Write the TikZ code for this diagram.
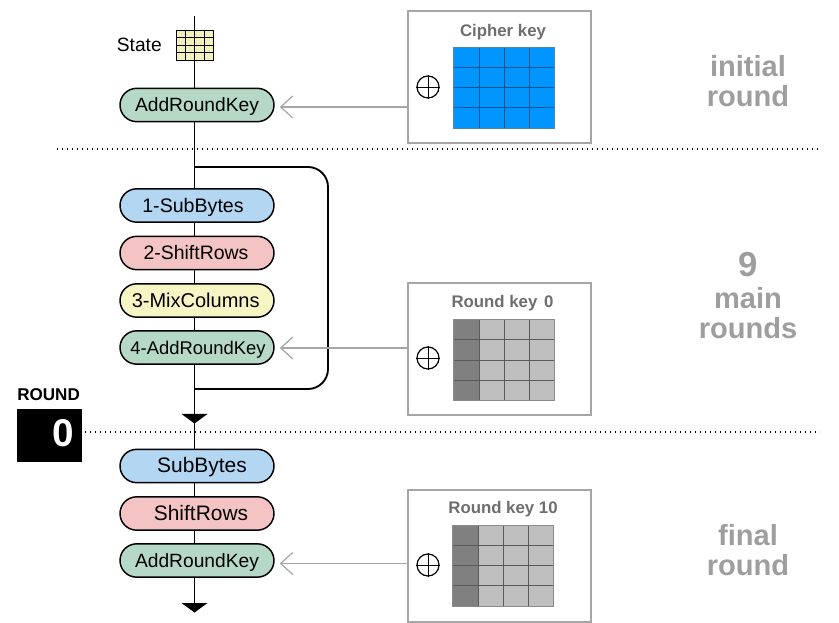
\documentclass[tikz,border=0pt]{standalone}
\usepackage{fontspec}
\setmainfont{Liberation Sans}
\usetikzlibrary{shapes.misc,calc,arrows.meta}
\definecolor{pillgreen}{HTML}{B5D9C6}
\definecolor{pillblue}{HTML}{B3D6F3}
\definecolor{pillred}{HTML}{F4C4C4}
\definecolor{pillyellow}{HTML}{F8F5C4}
\definecolor{stateyellow}{HTML}{F2F0BC}
\definecolor{keyblue}{HTML}{0095FF}
\definecolor{keyline}{HTML}{00558F}
\definecolor{boxgray}{HTML}{A6A6A6}
\definecolor{headgray}{HTML}{6E6E6E}
\definecolor{roundgray}{HTML}{9E9E9E}
\definecolor{darkcell}{HTML}{808080}
\definecolor{lightcell}{HTML}{BFBFBF}
\definecolor{gridline}{HTML}{5A5A5A}
\tikzset{
  x=0.75pt,y=-0.75pt,
  pill/.style={rounded rectangle,draw=black,line width=1.1pt,minimum width=115.5pt,minimum height=25pt,inner sep=0pt,text height=11.4pt,text depth=1.4pt,font=\fontsize{14.4}{16}\selectfont},
  flow/.style={draw=black,line width=1.4pt},
  feed/.style={draw=boxgray,line width=0.9pt},
  keybox/.style={draw=boxgray,line width=1.1pt,fill=white,minimum width=137pt,minimum height=99pt,inner sep=0pt},
  keyhead/.style={text=headgray,font=\bfseries\fontsize{12.6}{14}\selectfont,inner sep=0pt},
  phase/.style={text=roundgray,font=\bfseries\fontsize{21.8}{22.5}\selectfont,align=center,inner sep=0pt},
  sep/.style={draw=black,line width=0.8pt,dash pattern=on 0.8pt off 2.95pt},
  xorsym/.style={circle,draw=black,line width=0.9pt,minimum size=16.5pt,inner sep=0pt},
  headtip/.style={fill=black,draw=none},
}
\newcommand{\tsh}[1]{\hspace*{#1pt}}
% #1 x0, #2 y0 (top), #3 fill first col, #4 fill rest, #5 line colour
\newcommand{\keygrid}[5]{
  \fill[#4] (#1,#2) rectangle ++(101,81);
  \fill[#3] (#1,#2) rectangle ++(26,81);
  \foreach \k in {1,2,3} {
    \draw[#5,line width=0.65pt] (#1,#2) ++(0,\k*20.25) -- ++(101,0);
  }
  \draw[#5,line width=0.65pt] (#1,#2) ++(26,0) -- ++(0,81);
  \draw[#5,line width=0.65pt] (#1,#2) ++(51,0) -- ++(0,81);
  \draw[#5,line width=0.65pt] (#1,#2) ++(76,0) -- ++(0,81);
  \draw[#5!70,line width=0.5pt] (#1,#2) rectangle ++(101,81);
}
\begin{document}
\begin{tikzpicture}
\useasboundingbox (0,0) rectangle (839,623);
% separators
\coordinate (sepAl) at (57,149); \coordinate (sepAr) at (820,149);
\coordinate (sepBl) at (85,432); \coordinate (sepBr) at (820,432);
\draw[sep] (sepAl) -- (sepAr);
\draw[sep] (sepBl) -- (sepBr);
% coordinates of the flow
\coordinate (top) at (194.5,16);
\coordinate (loopa) at (194.5,167);
\coordinate (loopb) at (194.5,389);
\coordinate (tipa) at (194.5,414);
\coordinate (tipb) at (194.5,603);
% state
\node[inner sep=0pt,minimum width=28pt,minimum height=22.5pt,fill=stateyellow,draw=black,line width=0.7pt] (state) at (194.75,45) {};
\foreach \k in {1,2,3} {
  \draw[black,line width=0.6pt] ($(state.north west)!\k/4!(state.north east)$) -- ($(state.south west)!\k/4!(state.south east)$);
  \draw[black,line width=0.6pt] ($(state.north west)!\k/4!(state.south west)$) -- ($(state.north east)!\k/4!(state.south east)$);
}
\node[anchor=east,inner sep=0pt,font=\fontsize{14.4}{16}\selectfont] (statelabel) at (162,44.5) {State};
% pills
\node[pill,fill=pillgreen] (add0) at (197,105) {AddRoundKey};
\node[pill,fill=pillblue,font=\fontsize{14.7}{16}\selectfont] (sub1) at (197,205.5) {\tsh{-6}1-SubBytes};
\node[pill,fill=pillred,font=\fontsize{14.6}{16}\selectfont] (shift1) at (197,253) {\tsh{-1.5}2-ShiftRows};
\node[pill,fill=pillyellow,font=\fontsize{15}{16}\selectfont] (mix1) at (197,300.5) {\tsh{-2}3-MixColumns};
\node[pill,fill=pillgreen,font=\fontsize{13.8}{16}\selectfont] (add1) at (197,347.5) {\tsh{1.5}4-AddRoundKey};
\node[pill,fill=pillblue,font=\fontsize{15.7}{16}\selectfont] (sub2) at (197,466) {\tsh{7.5}SubBytes};
\node[pill,fill=pillred,font=\fontsize{15.7}{16}\selectfont] (shift2) at (197,513.5) {\tsh{6}ShiftRows};
\node[pill,fill=pillgreen] (add2) at (197,560.5) {AddRoundKey};
% flow lines
\draw[flow] (top) -- (top |- add0.north);
\draw[flow] (top |- add0.south) -- (top |- sub1.north);
\draw[flow] (top |- sub1.south) -- (top |- shift1.north);
\draw[flow] (top |- shift1.south) -- (top |- mix1.north);
\draw[flow] (top |- mix1.south) -- (top |- add1.north);
\draw[flow] (top |- add1.south) -- (tipa);
\draw[flow] (tipa) -- (top |- sub2.north);
\draw[flow] (top |- sub2.south) -- (top |- shift2.north);
\draw[flow] (top |- shift2.south) -- (top |- add2.north);
\draw[flow] (top |- add2.south) -- (tipb);
\draw[flow,rounded corners=15pt] (loopa) -- (328,167) -- (328,389) -- (loopb);
\path[headtip] (tipa) ++(-13,0) -- ++(26,0) -- ++(-13,9.5) -- cycle;
\path[headtip] (tipb) ++(-13,0) -- ++(26,0) -- ++(-13,9.5) -- cycle;
% key boxes
\node[keybox] (kb0) at (499.5,77) {};
\node[keybox] (kb1) at (499.5,349) {};
\node[keybox] (kb2) at (499.5,556) {};
\node[keyhead] (kh0) at (503,32) {Cipher key};
\node[keyhead] (kh1) at (502.5,303.5) {Round key\hspace{1.5pt} 0};
\node[keyhead] (kh2) at (503,509.5) {Round key 10};
\fill[keyblue] (453,47) rectangle (554,128);
\keygrid{453}{47}{keyblue}{keyblue}{keyline}
\keygrid{453}{319.5}{darkcell}{lightcell}{gridline}
\keygrid{452.5}{525}{darkcell}{lightcell}{gridline}
\foreach \n/\y in {x0/87,x1/358,x2/565} {
  \node[xorsym] (\n) at (428,\y) {};
  \draw[black,line width=0.7pt] (\n.west) -- (\n.east);
  \draw[black,line width=0.7pt] (\n.north) -- (\n.south);
}
% feeds
\coordinate (f0) at ($(add0.east)+(6,2)$);
\coordinate (f1) at ($(add1.east)+(6,0.5)$);
\coordinate (f2) at ($(add2.east)+(6,3)$);
\foreach \f/\b in {f0/kb0,f1/kb1,f2/kb2} {
  \draw[feed] (\f -| \b.west) -- (\f);
  \draw[feed] (\f) ++(12,-11) -- (\f) -- ++(12,11);
}
% round counter
\node[anchor=south west,inner sep=0pt,font=\bfseries\fontsize{12.8}{14}\selectfont] (rlabel) at (17,401) {ROUND};
\node[fill=black,inner sep=0pt,minimum width=48.75pt,minimum height=40pt] (rbox) at (49.5,435.5) {};
\node[text=white,inner sep=0pt,font=\bfseries\fontsize{29}{30}\selectfont] (rnum) at (63,433.5) {0};
% phase labels
\node[phase] (p0) at (748,81.5) {initial\\round};
\node[phase] (p1n) at (748,264.5) {\fontsize{26}{26}\selectfont 9};
\node[phase] (p1) at (748,313) {main\\rounds};
\node[phase] (p2) at (748,550.5) {final\\round};
\end{tikzpicture}
\end{document}
